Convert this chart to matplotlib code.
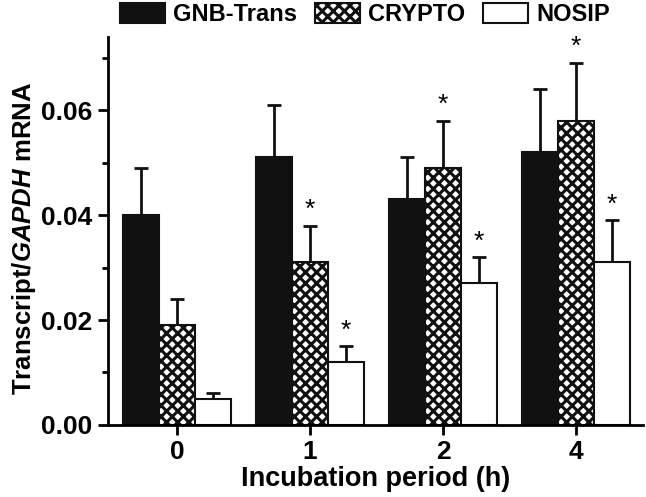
import numpy as np
import matplotlib
matplotlib.use("Agg")
import matplotlib.pyplot as plt
from matplotlib.patches import Patch
from matplotlib.ticker import MultipleLocator

plt.rcParams['font.family'] = 'Liberation Sans'
plt.rcParams['font.weight'] = 'bold'
plt.rcParams['axes.labelweight'] = 'bold'
plt.rcParams['mathtext.fontset'] = 'custom'
plt.rcParams['mathtext.it'] = 'Liberation Sans:italic:bold'
plt.rcParams['hatch.linewidth'] = 2.2

# data
periods = ["0", "1", "2", "4"]
series = ["GNB-Trans", "CRYPTO", "NOSIP"]
gnb = [0.040, 0.051, 0.043, 0.052]
gnb_err = [0.009, 0.010, 0.008, 0.012]
crypto = [0.019, 0.031, 0.049, 0.058]
crypto_err = [0.005, 0.007, 0.009, 0.011]
nosip = [0.005, 0.012, 0.027, 0.031]
nosip_err = [0.001, 0.003, 0.005, 0.008]
crypto_sig = [False, True, True, True]
nosip_sig = [False, True, True, True]

fig = plt.figure(figsize=(6.46, 4.97), dpi=100)
ax = fig.add_axes([0.167, 0.145, 0.828, 0.781])

x = np.arange(len(periods))
w = 0.27
vals = [gnb, crypto, nosip]
errs = [gnb_err, crypto_err, nosip_err]
faces = ['#111111', 'white', 'white']
hatches = [None, 'xxx', None]
sigs = [[False] * 4, crypto_sig, nosip_sig]

for i in range(3):
    pos = x + (i - 1) * w
    ax.bar(pos, vals[i], w, color=faces[i], edgecolor='#111111', linewidth=1.5,
           hatch=hatches[i], zorder=2)
    ax.errorbar(pos, vals[i], yerr=[np.zeros(4), errs[i]], fmt='none',
                ecolor='#111111', elinewidth=2, capsize=5, capthick=2, zorder=1)
    for j in range(4):
        if sigs[i][j]:
            ax.text(pos[j], vals[i][j] + errs[i][j] + 0.0007, '*', ha='center',
                    va='bottom', fontsize=19, fontweight='normal')

ax.set_xlim(-0.52, 3.5)
ax.set_ylim(0, 0.074)
ax.set_xticks(x)
ax.set_xticklabels(periods)
ax.yaxis.set_major_locator(MultipleLocator(0.02))
ax.yaxis.set_minor_locator(MultipleLocator(0.01))
ax.yaxis.set_major_formatter(matplotlib.ticker.FormatStrFormatter('%.2f'))
for s in ['top', 'right']:
    ax.spines[s].set_visible(False)
for s in ['left', 'bottom']:
    ax.spines[s].set_linewidth(2)
ax.tick_params(axis='both', which='major', width=2, length=7, labelsize=19, pad=4)
ax.tick_params(axis='y', which='minor', width=2, length=4)
ax.set_xlabel('Incubation period (h)', fontsize=19.5, labelpad=1)
ax.set_ylabel('Transcript/$\\mathit{GAPDH}$ mRNA', fontsize=18.5)
ax.yaxis.set_label_coords(-0.13, 0.48)

handles = [Patch(facecolor=faces[i], edgecolor='#111111', hatch=hatches[i], linewidth=1.5)
           for i in range(3)]
fig.legend(handles, series, loc='upper center', bbox_to_anchor=(0.565, 1.037), ncol=3,
           frameon=False, fontsize=17, handlelength=1.9, handleheight=0.95,
           columnspacing=0.75, handletextpad=0.35)

fig.savefig('out.png', dpi=100)
